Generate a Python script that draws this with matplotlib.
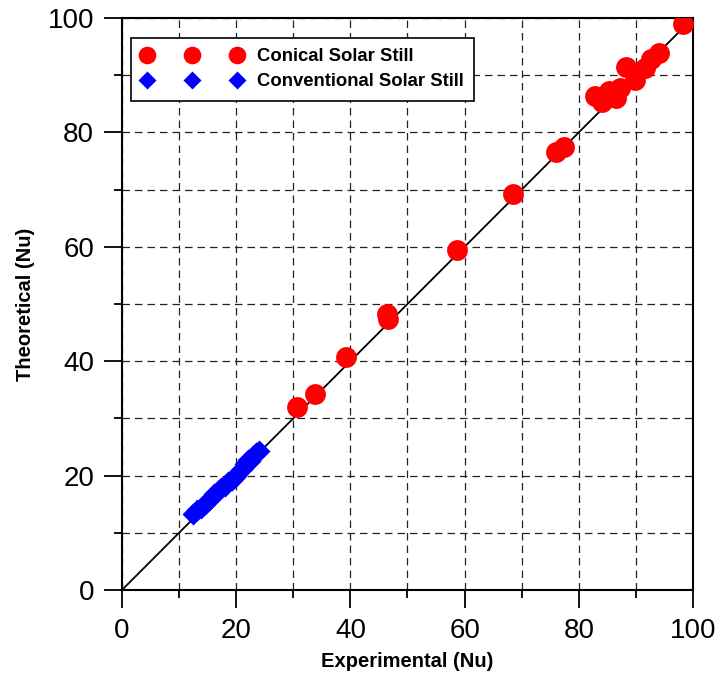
import matplotlib
matplotlib.use('Agg')
import matplotlib.pyplot as plt
from matplotlib.ticker import MultipleLocator

# conical still
con_x = [30.6, 33.8, 39.3, 46.5, 46.6, 58.6, 68.4, 76.0, 77.4, 82.9, 84.0, 85.3,
         86.6, 87.3, 88.3, 89.8, 91.6, 92.6, 94.0, 98.2]
con_y = [32.0, 34.3, 40.8, 48.2, 47.3, 59.4, 69.2, 76.6, 77.5, 86.4, 85.4, 87.3,
         86.0, 87.8, 91.4, 89.2, 91.2, 92.8, 93.9, 99.0]

# conventional still
conv_x = [12.5, 13.2, 13.8, 14.5, 15.0, 15.6, 16.2, 16.8, 17.4, 18.0, 18.6, 19.2,
          19.8, 20.4, 21.0, 21.5, 22.0, 22.5, 23.0, 23.5, 24.0]
conv_y = [13.3, 13.9, 14.4, 15.0, 15.6, 16.0, 16.7, 17.3, 17.8, 18.2, 18.8, 19.3,
          19.8, 20.4, 21.2, 22.0, 22.8, 22.6, 23.4, 24.0, 24.3]

plt.rcParams['font.family'] = ['Liberation Sans', 'DejaVu Sans']

fig = plt.figure(figsize=(7.2, 6.79), dpi=100)
ax = fig.add_axes([0.1694, 0.1311, 0.7931, 0.8424])

ax.plot([0, 100], [0, 100], color='black', lw=1.3, zorder=2)
ax.plot(con_x, con_y, 'o', color='red', ms=15, mec='none', zorder=3,
        label='Conical Solar Still')
ax.plot(conv_x, conv_y, 'D', color='blue', ms=11.5, mec='none', zorder=3,
        label='Conventional Solar Still')

ax.set_xlim(0, 100)
ax.set_ylim(0, 100)
ax.xaxis.set_major_locator(MultipleLocator(20))
ax.yaxis.set_major_locator(MultipleLocator(20))
ax.xaxis.set_minor_locator(MultipleLocator(10))
ax.yaxis.set_minor_locator(MultipleLocator(10))
ax.grid(which='both', color='#222222', linestyle=(0, (6, 4)), lw=0.9)
ax.set_axisbelow(True)

ax.tick_params(which='major', direction='out', length=13, width=1.3,
               labelsize=20, pad=7)
ax.tick_params(which='minor', direction='out', length=6, width=1.3)
for s in ax.spines.values():
    s.set_linewidth(1.5)

ax.set_xlabel('Experimental (Nu)', fontsize=14.5, fontweight='bold', labelpad=6)
ax.set_ylabel('Theoretical (Nu)', fontsize=14.5, fontweight='bold', labelpad=9)

leg = ax.legend(loc='upper left', bbox_to_anchor=(0.0158, 0.965), borderaxespad=0,
                numpoints=3, handlelength=5.5, handletextpad=0.75,
                prop={'weight': 'bold', 'size': 13.3}, fancybox=False,
                edgecolor='black', framealpha=1,
                labelspacing=0.45, borderpad=0.55)
leg.get_frame().set_linewidth(1.2)
leg.legend_handles[0].set_markersize(12.7)
leg.legend_handles[1].set_markersize(8.8)

plt.savefig('out.png', dpi=100)
